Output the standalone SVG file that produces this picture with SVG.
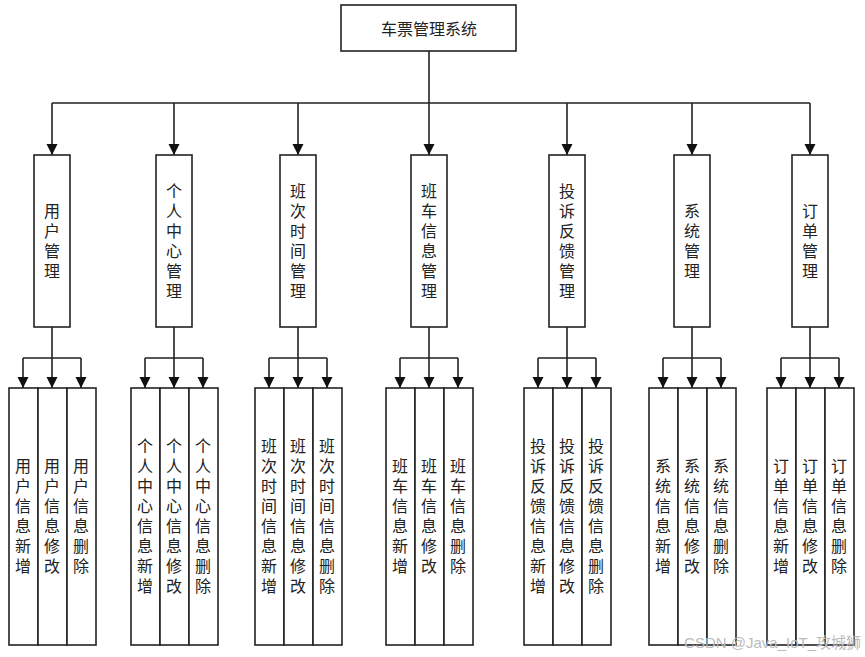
<svg xmlns="http://www.w3.org/2000/svg" width="865" height="657" viewBox="0 0 865 657">
<style>
.box{fill:#fff;stroke:#222;stroke-width:1.6}
.t{font-family:"Noto Sans CJK SC","Noto Sans",sans-serif;font-size:16px;fill:#222;text-anchor:middle;dominant-baseline:central}
.v{font-family:"Noto Sans CJK SC","Noto Sans",sans-serif;font-size:16px;fill:#222;text-anchor:middle;writing-mode:vertical-rl;text-orientation:upright;letter-spacing:4px}
.c{fill:none;stroke:#222;stroke-width:1.6}
.wm{font-family:"Liberation Sans","Noto Sans CJK SC",sans-serif;font-size:15px;fill:#bbb}
</style>
<defs>
<marker id="ah" markerUnits="userSpaceOnUse" markerWidth="12" markerHeight="12" refX="11" refY="6" orient="auto" viewBox="0 0 12 12">
<path d="M0,0.5 L11,6 L0,11.5 z" fill="#111"/>
</marker>
</defs>
<rect width="865" height="657" fill="#fff"/>
<g id="connectors">
<path class="c" d="M429,51 V103 M52,103 H810"/>
<path class="c" marker-end="url(#ah)" d="M52,103 V155"/>
<path class="c" marker-end="url(#ah)" d="M174,103 V155"/>
<path class="c" marker-end="url(#ah)" d="M298,103 V155"/>
<path class="c" marker-end="url(#ah)" d="M429,103 V155"/>
<path class="c" marker-end="url(#ah)" d="M567,103 V155"/>
<path class="c" marker-end="url(#ah)" d="M692,103 V155"/>
<path class="c" marker-end="url(#ah)" d="M810,103 V155"/>
<path class="c" d="M52,327 V358 M23,358 H81 M174,327 V358 M145,358 H203 M298,327 V358 M269,358 H327 M429,327 V358 M400,358 H458 M567,327 V358 M538,358 H596 M692,327 V358 M663,358 H721 M810,327 V358 M781,358 H839"/>
<g marker-end="url(#ah)" class="c">
<path d="M23,358 V388"/><path d="M52,358 V388"/><path d="M81,358 V388"/>
<path d="M145,358 V388"/><path d="M174,358 V388"/><path d="M203,358 V388"/>
<path d="M269,358 V388"/><path d="M298,358 V388"/><path d="M327,358 V388"/>
<path d="M400,358 V388"/><path d="M429,358 V388"/><path d="M458,358 V388"/>
<path d="M538,358 V388"/><path d="M567,358 V388"/><path d="M596,358 V388"/>
<path d="M663,358 V388"/><path d="M692,358 V388"/><path d="M721,358 V388"/>
<path d="M781,358 V388"/><path d="M810,358 V388"/><path d="M839,358 V388"/>
</g>
</g>
<g id="root"><rect class="box" x="341" y="5" width="175" height="46"/><text class="t" x="429" y="28">车票管理系统</text></g>

<g id="m1"><rect class="box" x="34" y="155" width="36" height="172"/><text class="v" x="52" y="243">用户管理</text></g>
<g id="m2"><rect class="box" x="156" y="155" width="36" height="172"/><text class="v" x="174" y="243">个人中心管理</text></g>
<g id="m3"><rect class="box" x="280" y="155" width="36" height="172"/><text class="v" x="298" y="243">班次时间管理</text></g>
<g id="m4"><rect class="box" x="411" y="155" width="36" height="172"/><text class="v" x="429" y="243">班车信息管理</text></g>
<g id="m5"><rect class="box" x="549" y="155" width="36" height="172"/><text class="v" x="567" y="243">投诉反馈管理</text></g>
<g id="m6"><rect class="box" x="674" y="155" width="36" height="172"/><text class="v" x="692" y="243">系统管理</text></g>
<g id="m7"><rect class="box" x="792" y="155" width="36" height="172"/><text class="v" x="810" y="243">订单管理</text></g>

<g id="l1a"><rect class="box" x="9" y="388" width="29" height="257"/><text class="v" x="23" y="518">用户信息新增</text></g>
<g id="l1b"><rect class="box" x="38" y="388" width="29" height="257"/><text class="v" x="52" y="518">用户信息修改</text></g>
<g id="l1c"><rect class="box" x="67" y="388" width="29" height="257"/><text class="v" x="81" y="518">用户信息删除</text></g>

<g id="l2a"><rect class="box" x="131" y="388" width="29" height="257"/><text class="v" x="145" y="518">个人中心信息新增</text></g>
<g id="l2b"><rect class="box" x="160" y="388" width="29" height="257"/><text class="v" x="174" y="518">个人中心信息修改</text></g>
<g id="l2c"><rect class="box" x="189" y="388" width="29" height="257"/><text class="v" x="203" y="518">个人中心信息删除</text></g>

<g id="l3a"><rect class="box" x="255" y="388" width="29" height="257"/><text class="v" x="269" y="518">班次时间信息新增</text></g>
<g id="l3b"><rect class="box" x="284" y="388" width="29" height="257"/><text class="v" x="298" y="518">班次时间信息修改</text></g>
<g id="l3c"><rect class="box" x="313" y="388" width="29" height="257"/><text class="v" x="327" y="518">班次时间信息删除</text></g>

<g id="l4a"><rect class="box" x="386" y="388" width="29" height="257"/><text class="v" x="400" y="518">班车信息新增</text></g>
<g id="l4b"><rect class="box" x="415" y="388" width="29" height="257"/><text class="v" x="429" y="518">班车信息修改</text></g>
<g id="l4c"><rect class="box" x="444" y="388" width="29" height="257"/><text class="v" x="458" y="518">班车信息删除</text></g>

<g id="l5a"><rect class="box" x="524" y="388" width="29" height="257"/><text class="v" x="538" y="518">投诉反馈信息新增</text></g>
<g id="l5b"><rect class="box" x="553" y="388" width="29" height="257"/><text class="v" x="567" y="518">投诉反馈信息修改</text></g>
<g id="l5c"><rect class="box" x="582" y="388" width="29" height="257"/><text class="v" x="596" y="518">投诉反馈信息删除</text></g>

<g id="l6a"><rect class="box" x="649" y="388" width="29" height="257"/><text class="v" x="663" y="518">系统信息新增</text></g>
<g id="l6b"><rect class="box" x="678" y="388" width="29" height="257"/><text class="v" x="692" y="518">系统信息修改</text></g>
<g id="l6c"><rect class="box" x="707" y="388" width="29" height="257"/><text class="v" x="721" y="518">系统信息删除</text></g>

<g id="l7a"><rect class="box" x="767" y="388" width="29" height="257"/><text class="v" x="781" y="518">订单信息新增</text></g>
<g id="l7b"><rect class="box" x="796" y="388" width="29" height="257"/><text class="v" x="810" y="518">订单信息修改</text></g>
<g id="l7c"><rect class="box" x="825" y="388" width="29" height="257"/><text class="v" x="839" y="518">订单信息删除</text></g>

<text class="wm" x="861" y="648" text-anchor="end">CSDN @Java_IoT_攻城狮</text>
</svg>
